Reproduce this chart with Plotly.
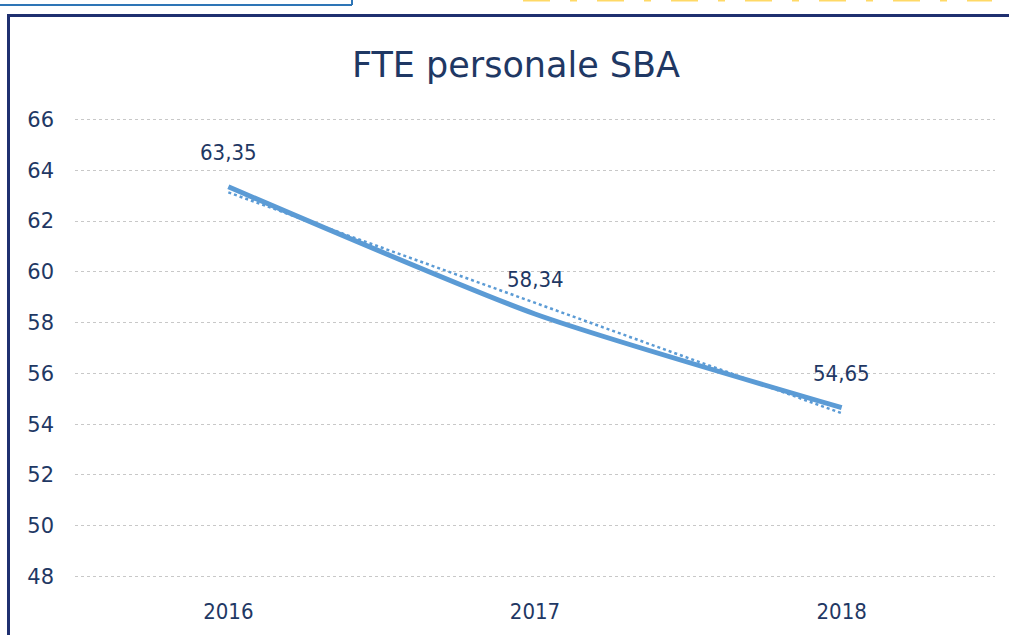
import plotly.graph_objects as go

years = ["2016", "2017", "2018"]
fte = [63.35, 58.34, 54.65]
trend = [63.13, 58.78, 54.43]  # linear trendline
y_ticks = [48, 50, 52, 54, 56, 58, 60, 62, 64, 66]
title_text = "FTE personale SBA"

NAVY = "#1F3864"
LINE = "#5B9BD5"
COND = "DejaVu Sans Condensed, Liberation Sans Narrow, DejaVu Sans, sans-serif"

fig = go.Figure()
fig.add_trace(go.Scatter(
    x=years, y=trend, mode="lines",
    line=dict(color=LINE, width=2.5, dash="dot"),
    hoverinfo="skip", showlegend=False))
fig.add_trace(go.Scatter(
    x=years, y=fte, mode="lines",
    line=dict(color=LINE, width=5, shape="spline", smoothing=0.6),
    showlegend=False))

for i, yv in enumerate(fte):
    fig.add_annotation(x=i, y=yv, text=f"{yv:.2f}".replace(".", ","),
                       showarrow=False, yshift=34,
                       font=dict(family=COND, size=22, color=NAVY))

W, H = 1009, 635
L, R, T, B = 75, 14, 117, 56
pw, ph = W - L - R, H - T - B
def px(x):
    return (x - L) / pw
def py(y):
    return (H - B - y) / ph

shapes = [
    # main frame
    dict(type="line", xref="paper", yref="paper", x0=px(8.5), x1=px(1015), y0=py(15.5), y1=py(15.5),
         line=dict(color="#1F3070", width=3)),
    dict(type="line", xref="paper", yref="paper", x0=px(8.5), x1=px(8.5), y0=py(14), y1=py(640),
         line=dict(color="#1F3070", width=3)),
    # top-left box
    dict(type="line", xref="paper", yref="paper", x0=px(-5), x1=px(352), y0=py(5), y1=py(5),
         line=dict(color="#2E75B6", width=2)),
    dict(type="line", xref="paper", yref="paper", x0=px(352), x1=px(352), y0=py(-5), y1=py(5),
         line=dict(color="#2E75B6", width=2)),
    # yellow cut-off text remnants
    dict(type="line", xref="paper", yref="paper", x0=px(523), x1=px(992), y0=py(0.5), y1=py(0.5),
         line=dict(color="#FFD966", width=2, dash="27px,20px,7px,20px")),
]

fig.update_layout(
    width=W, height=H,
    margin=dict(l=L, r=R, t=T, b=B),
    paper_bgcolor="white", plot_bgcolor="white",
    shapes=shapes,
    title=dict(text=title_text, x=516 / W, xanchor="center", y=1 - 65 / H, yanchor="middle",
               font=dict(family="DejaVu Sans, sans-serif", size=35, color=NAVY)),
    xaxis=dict(type="category", range=[-0.5, 2.5], showgrid=False, zeroline=False,
               showline=False, ticks="", ticklabelstandoff=17,
               tickfont=dict(family=COND, size=22, color=NAVY)),
    yaxis=dict(range=[47.9, 66.1], tickvals=y_ticks, showgrid=True, gridcolor="#C8C8C8",
               griddash="dot", gridwidth=1, zeroline=False, showline=False, ticks="",
               ticklabelstandoff=20,
               tickfont=dict(family="DejaVu Sans, sans-serif", size=21, color=NAVY)),
)

fig.write_html("out.html", config={"displayModeBar": False},
               post_script="document.body.style.margin='0';")
